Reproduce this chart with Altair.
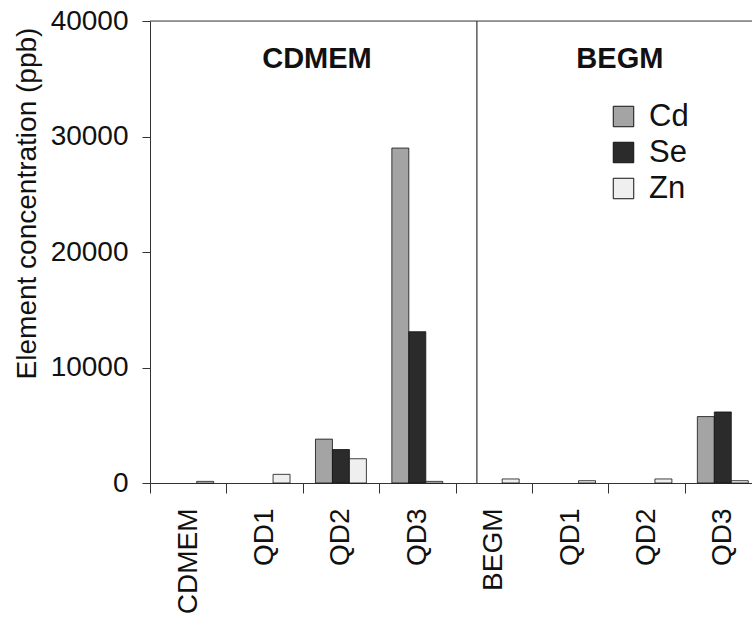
import altair as alt
import pandas as pd

# ---- data ----
groups = ["CDMEM", "CDMEM", "CDMEM", "CDMEM", "BEGM", "BEGM", "BEGM", "BEGM"]
samples = ["CDMEM", "QD1", "QD2", "QD3", "BEGM", "QD1", "QD2", "QD3"]
elements = ["Cd", "Se", "Zn"]
cd_vals = [0, 0, 3800, 29000, 0, 0, 0, 5750]
se_vals = [0, 0, 2900, 13100, 0, 0, 0, 6150]
zn_vals = [140, 750, 2100, 140, 350, 200, 350, 200]
y_ticks = [0, 10000, 20000, 30000, 40000]
panel_titles = ["CDMEM", "BEGM"]

keys = [f"{g}|{s}" for g, s in zip(groups, samples)]
rows = []
for k, c, s, z in zip(keys, cd_vals, se_vals, zn_vals):
    for el, v in zip(elements, [c, s, z]):
        rows.append({"key": k, "element": el, "value": v})
df = pd.DataFrame(rows)
one = pd.DataFrame({"a": [0]})

FONT = "Liberation Sans"
xscale = alt.Scale(domain=keys, paddingInner=0, paddingOuter=0)

bars = alt.Chart(df).transform_filter("datum.value > 0").mark_bar(
    stroke="#111111", strokeWidth=0.8).encode(
    x=alt.X("key:N", scale=xscale, axis=alt.Axis(
        title=None, labelExpr="split(datum.label, '|')[1]", labelAngle=-90,
        labelFontSize=28, labelFont=FONT, labelColor="#111111", labelPadding=15,
        labelOverlap=False, labelLimit=0, tickBand="extent", tickSize=10,
        tickColor="#333333", domainColor="#333333", grid=False)),
    xOffset=alt.XOffset("element:N",
                        scale=alt.Scale(domain=elements, paddingInner=0, paddingOuter=0.75)),
    y=alt.Y("value:Q", scale=alt.Scale(domain=[0, 40000], nice=False), axis=alt.Axis(
        values=y_ticks, format="d", tickSize=8, labelPadding=14, labelFontSize=28,
        labelFont=FONT, labelColor="#111111", tickColor="#333333", domainColor="#333333",
        grid=False, title="Element concentration (ppb)", titleFontSize=28,
        titleFont=FONT, titleFontWeight="normal", titleColor="#111111",
        titleAngle=270, titleX=-123, titleY=182, titleAlign="center",
        titleBaseline="middle")),
    fill=alt.Fill("element:N", scale=alt.Scale(domain=elements,
                  range=["#a4a4a4", "#2b2b2b", "#efefef"]),
                  legend=alt.Legend(title=None, orient="none", legendX=458, legendY=80,
                                    symbolType="square", symbolSize=420,
                                    symbolStrokeColor="#111111", symbolStrokeWidth=1,
                                    labelFontSize=31, labelFont=FONT, labelColor="#111111",
                                    labelOffset=10, rowPadding=4, padding=0)),
)

top_rule = alt.Chart(one).mark_rule(color="#444444", strokeWidth=1.2).encode(
    y=alt.value(0))

sep = alt.Chart(one).mark_rule(color="#333333", strokeWidth=1.2).encode(
    x=alt.XDatum("BEGM|BEGM", type="nominal", bandPosition=0.28, scale=xscale),
    y=alt.value(0), y2=alt.value(462))

t1 = alt.Chart(one).mark_text(fontSize=29, fontWeight="bold", font=FONT,
                              color="#111111", baseline="alphabetic").encode(
    x=alt.XDatum("CDMEM|QD2", type="nominal", bandPosition=0.186, scale=xscale),
    y=alt.value(47), text=alt.value(panel_titles[0]))

t2 = alt.Chart(one).mark_text(fontSize=29, fontWeight="bold", font=FONT,
                              color="#111111", baseline="alphabetic").encode(
    x=alt.XDatum("BEGM|QD2", type="nominal", bandPosition=0.152, scale=xscale),
    y=alt.value(47), text=alt.value(panel_titles[1]))

chart = alt.layer(bars, top_rule, sep, t1, t2).properties(
    width=611, height=462,
    padding={"left": 150, "top": 21, "right": -9, "bottom": 138},
    autosize=alt.AutoSizeParams(type="none"),
    background="white",
).configure_view(stroke="transparent").configure(font=FONT)

chart.save("out.html", embed_options={"renderer": "svg", "actions": False})
